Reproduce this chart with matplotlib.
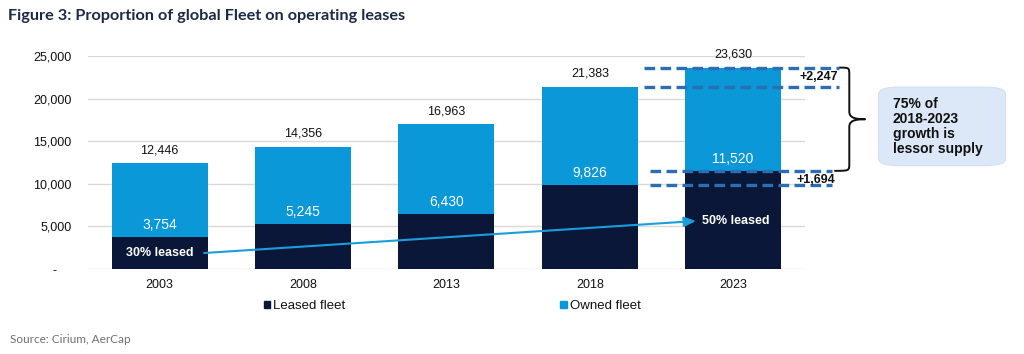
import matplotlib
matplotlib.use("Agg")
import matplotlib.pyplot as plt
import matplotlib.patches as mpatches
from matplotlib.path import Path
from matplotlib.ticker import FuncFormatter


YEARS = ["2003", "2008", "2013", "2018", "2023"]
LEASED = [3754, 5245, 6430, 9826, 11520]
TOTAL = [12446, 14356, 16963, 21383, 23630]
OWNED = [t - l for t, l in zip(TOTAL, LEASED)]
SHARE_START = "30% leased"
SHARE_END = "50% leased"
NAVY = "#0b1738"
BLUE = "#0a98d8"
DASH = "#2d6db4"


def fmt_y(v, pos):
    if v == 0:
        return "-    "
    return f"{int(v):,}"


def draw_chart():
    plt.rcParams["font.family"] = ["Liberation Sans", "DejaVu Sans"]
    fig = plt.figure(figsize=(10.24, 3.54), dpi=100)
    ax = fig.add_axes([0.086, 0.240, 0.700, 0.602])

    x = list(range(len(YEARS)))
    ax.bar(x, LEASED, width=0.67, color=NAVY, zorder=2, label="Leased fleet")
    ax.bar(x, OWNED, width=0.67, bottom=LEASED, color=BLUE, zorder=2, label="Owned fleet")

    for i in x:
        ax.annotate(f"{TOTAL[i]:,}", (i, TOTAL[i]), xytext=(0, 5), textcoords="offset points",
                    ha="center", va="bottom", fontsize=9, color="#111111")
        ax.annotate(f"{LEASED[i]:,}", (i, LEASED[i]), xytext=(0, 3.5), textcoords="offset points",
                    ha="center", va="bottom", fontsize=10, color="white", zorder=3)

    narrow = ["Liberation Sans Narrow", "Liberation Sans", "DejaVu Sans"]
    ax.text(0, 1880, SHARE_START, ha="center", va="center", color="white",
            fontsize=9, fontweight="bold", family=narrow, zorder=4)
    ax.text(4.02, 5635, SHARE_END, ha="center", va="center", color="white",
            fontsize=9, fontweight="bold", family=narrow, zorder=4)
    ax.annotate("", xy=(3.74, 5635), xytext=(0.31, 1880),
                arrowprops=dict(arrowstyle="-|>,head_length=0.7,head_width=0.3",
                                color="#1a9edb", lw=1.5, shrinkA=0, shrinkB=0), zorder=4)

    # growth brackets on the 2023 bar
    dash_kw = dict(color=DASH, lw=2.4, linestyle=(0, (3.2, 1.6)), clip_on=False, zorder=5)
    ax.plot([3.38, 4.74], [TOTAL[-1]] * 2, **dash_kw)
    ax.plot([3.38, 4.74], [TOTAL[-2]] * 2, **dash_kw)
    ax.plot([3.42, 4.69], [LEASED[-1]] * 2, **dash_kw)
    ax.plot([3.42, 4.69], [LEASED[-2]] * 2, **dash_kw)
    ax.text(4.60, (TOTAL[-1] + TOTAL[-2]) / 2, f"+{TOTAL[-1] - TOTAL[-2]:,}", ha="center",
            va="center", fontsize=9, fontweight="bold", color="#111111", clip_on=False)
    ax.text(4.58, (LEASED[-1] + LEASED[-2]) / 2 - 200, f"+{LEASED[-1] - LEASED[-2]:,}", ha="center",
            va="center", fontsize=9, fontweight="bold", color="#111111", clip_on=False, zorder=6)

    top, bot = TOTAL[-1], LEASED[-1]
    mid = (top + bot) / 2
    xa, xb, xc = 4.74, 4.81, 4.92
    d = 900
    verts = [(xa, top),
             (xb, top), (xb, top), (xb, top - d),
             (xb, mid + d),
             (xb, mid + 0.25 * d), (xb + 0.3 * (xc - xb), mid), (xc, mid),
             (xb + 0.3 * (xc - xb), mid), (xb, mid - 0.25 * d), (xb, mid - d),
             (xb, bot + d),
             (xb, bot), (xb, bot), (xa - 0.03, bot)]
    codes = [Path.MOVETO,
             Path.CURVE4, Path.CURVE4, Path.CURVE4,
             Path.LINETO,
             Path.CURVE4, Path.CURVE4, Path.CURVE4,
             Path.CURVE4, Path.CURVE4, Path.CURVE4,
             Path.LINETO,
             Path.CURVE4, Path.CURVE4, Path.CURVE4]
    brace = mpatches.PathPatch(Path(verts, codes), fill=False, lw=1.4, color="#111111",
                               clip_on=False, capstyle="round", joinstyle="round")
    ax.add_patch(brace)

    ax.set_xlim(-0.5, 4.5)
    ax.set_ylim(0, 25000)
    ax.set_yticks(range(0, 25001, 5000))
    ax.yaxis.set_major_formatter(FuncFormatter(fmt_y))
    ax.set_xticks(x)
    ax.set_xticklabels(YEARS)
    ax.tick_params(axis="both", length=0, labelsize=9, colors="#111111")
    ax.tick_params(axis="y", pad=12)
    ax.tick_params(axis="x", pad=7)
    ax.grid(axis="y", color="#d9d9d9", lw=1, zorder=0)
    for s in ax.spines.values():
        s.set_visible(False)

    leg = ax.legend(handles=[mpatches.Patch(color=NAVY, label="Leased fleet"),
                             mpatches.Patch(color=BLUE, label="Owned fleet")],
                    ncol=2, loc="center", bbox_to_anchor=(0.508, -0.175), frameon=False,
                    fontsize=9.5, handlelength=0.5, handleheight=0.5, handletextpad=0.2,
                    columnspacing=16.3)
    for t in leg.get_texts():
        t.set_color("#111111")

    box = mpatches.FancyBboxPatch((0.858, 0.532), 0.124, 0.222, transform=fig.transFigure,
                                  boxstyle="round,pad=0.0,rounding_size=0.02",
                                  facecolor="#dce8f7", edgecolor="#d2e0f3", lw=0.8)
    fig.patches.append(box)
    fig.text(0.872, 0.643, "75% of\n2018-2023\ngrowth is\nlessor supply", ha="left", va="center",
             fontsize=10, fontweight="bold", color="#111111", linespacing=1.1)

    fig.text(0.008, 0.955, "Figure 3: Proportion of global Fleet on operating leases",
             ha="left", va="center", fontsize=11.7, fontweight="bold", color="#1b2a48",
             family=["Lato", "DejaVu Sans"])
    fig.text(0.010, 0.042, "Source: Cirium, AerCap", ha="left", va="center",
             fontsize=8.5, color="#707070", family=["Lato", "DejaVu Sans"])

    fig.savefig("out.png", dpi=100)


if __name__ == "__main__":
    draw_chart()
